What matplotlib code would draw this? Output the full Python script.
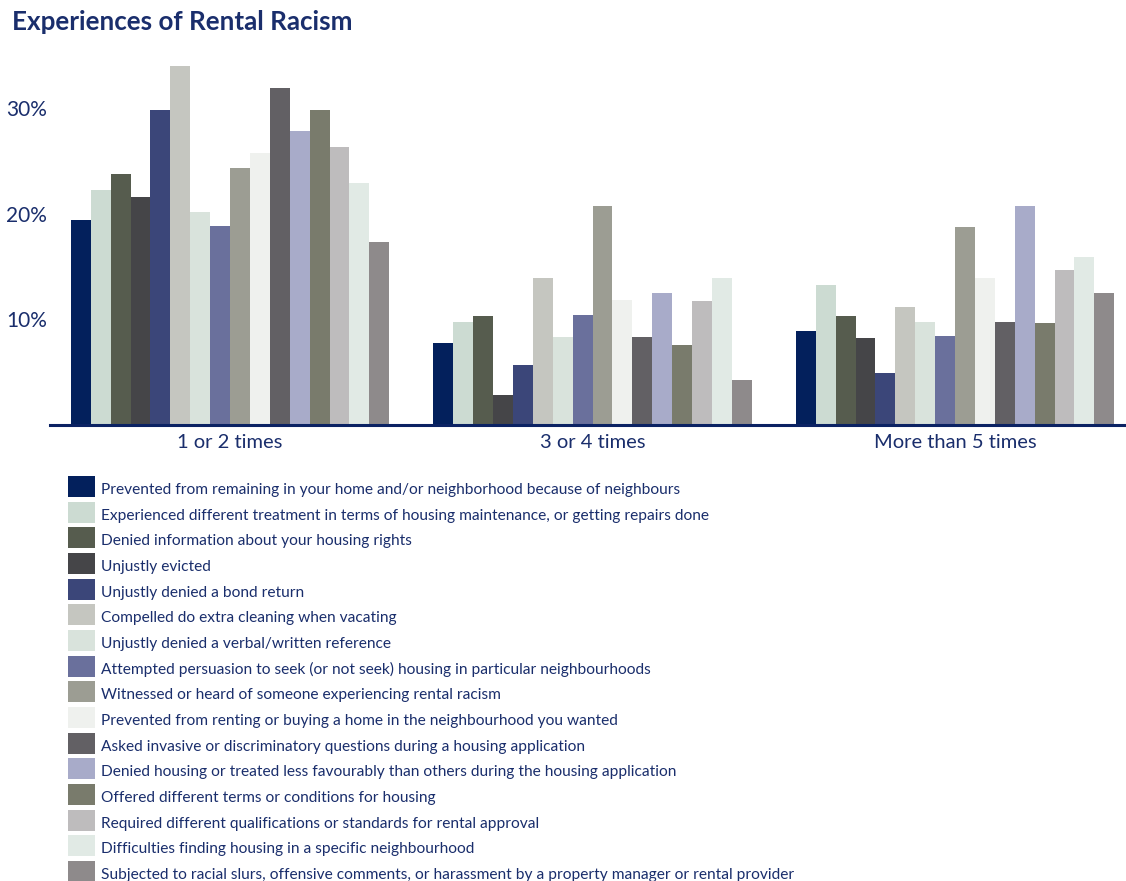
import matplotlib
matplotlib.use("Agg")
import matplotlib.pyplot as plt
from matplotlib.patches import Rectangle
import numpy as np

plt.rcParams["font.family"] = ["Lato", "DejaVu Sans"]

groups = ["1 or 2 times", "3 or 4 times", "More than 5 times"]

labels = [
    "Prevented from remaining in your home and/or neighborhood because of neighbours",
    "Experienced different treatment in terms of housing maintenance, or getting repairs done",
    "Denied information about your housing rights",
    "Unjustly evicted",
    "Unjustly denied a bond return",
    "Compelled do extra cleaning when vacating",
    "Unjustly denied a verbal/written reference",
    "Attempted persuasion to seek (or not seek) housing in particular neighbourhoods",
    "Witnessed or heard of someone experiencing rental racism",
    "Prevented from renting or buying a home in the neighbourhood you wanted",
    "Asked invasive or discriminatory questions during a housing application",
    "Denied housing or treated less favourably than others during the housing application",
    "Offered different terms or conditions for housing",
    "Required different qualifications or standards for rental approval",
    "Difficulties finding housing in a specific neighbourhood",
    "Subjected to racial slurs, offensive comments, or harassment by a property manager or rental provider",
]

# percent of respondents, one row per experience: [1 or 2, 3 or 4, more than 5]
values = [
    [19.4, 7.7, 8.9],
    [22.2, 9.7, 13.2],
    [23.7, 10.3, 10.3],
    [21.6, 2.8, 8.2],
    [29.8, 5.6, 4.9],
    [34.0, 13.9, 11.1],
    [20.1, 8.3, 9.7],
    [18.8, 10.4, 8.4],
    [24.3, 20.7, 18.7],
    [25.7, 11.8, 13.9],
    [31.9, 8.3, 9.7],
    [27.8, 12.5, 20.7],
    [29.8, 7.5, 9.6],
    [26.3, 11.7, 14.6],
    [22.9, 13.9, 15.9],
    [17.3, 4.2, 12.5],
]

colors = [
    "#03205c", "#ccdbd2", "#565c4e", "#454548",
    "#3b4679", "#c5c6c0", "#d9e3dc", "#6a709c",
    "#9c9d93", "#eff1ee", "#626064", "#a8abc9",
    "#797b6c", "#bebcbd", "#e1eae5", "#8e8a8b",
]

navy = "#1a2e6c"

W, H = 1126, 881
fig = plt.figure(figsize=(W / 100, H / 100), dpi=100)
ax = fig.add_axes([50 / W, 1 - 424.5 / H, 1076 / W, (424.5 - 50) / H])

x = np.arange(len(groups))
n = len(labels)
width = 0.0549
for i, (lab, vals, col) in enumerate(zip(labels, values, colors)):
    ax.bar(x + (i - (n - 1) / 2) * width, vals, width, color=col, label=lab)

ax.set_xlim(-0.4966, 2.4717)
ax.set_ylim(0, 35.5)
ax.set_yticks([10, 20, 30])
ax.set_yticklabels(["10%", "20%", "30%"])
ax.set_xticks(x)
ax.set_xticklabels(groups)
ax.tick_params(axis="y", length=0, pad=2, labelsize=15, labelcolor=navy)
ax.tick_params(axis="x", length=0, pad=7, labelsize=14.5, labelcolor=navy)
for s in ["top", "right", "left"]:
    ax.spines[s].set_visible(False)
ax.spines["bottom"].set_color("#0b2263")
ax.spines["bottom"].set_linewidth(2.2)

fig.text(12 / W, 1 - 22 / H, "Experiences of Rental Racism", fontsize=18.7,
         fontweight="bold", color=navy, va="center", ha="left")

# key below the chart: swatch + label per row, in pixel positions
row0, step = 486.5, 25.67
for i, (lab, col) in enumerate(zip(labels, colors)):
    yc = row0 + i * step
    fig.patches.append(Rectangle((68 / W, 1 - (yc + 10.5) / H), 27 / W, 21 / H,
                                 transform=fig.transFigure, color=col, lw=0))
    fig.text(101 / W, 1 - (yc + 7.5) / H, lab, fontsize=11.2, color=navy,
             va="baseline", ha="left")

fig.savefig("out.png", dpi=100)
